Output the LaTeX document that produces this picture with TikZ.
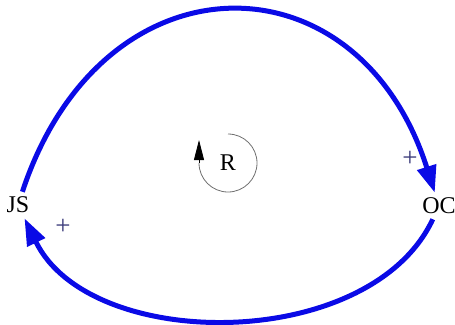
\documentclass[tikz,border=0pt]{standalone}
\usepackage{fontspec}
\setmainfont{Liberation Serif}
\usetikzlibrary{arrows.meta}
\definecolor{linkblue}{HTML}{0A0AE6}
\definecolor{signblue}{HTML}{3A3A7A}
\definecolor{loopgray}{HTML}{707070}

\begin{document}
\begin{tikzpicture}[
  x=1pt, y=-1pt,
  every node/.style={font={\fontsize{24pt}{26pt}\selectfont}},
  varnode/.style={inner sep=5pt},
  link/.style={line width=5pt, color=linkblue,
    -{Triangle[length=27pt,width=19pt]}},
  sign/.style={color=signblue, font={\fontsize{27pt}{29pt}\selectfont}},
]
\useasboundingbox (0,0) rectangle (455,324);

\node[varnode] (JS) at (18,205) {JS};
\node[varnode] (OC) at (439,206) {OC};

% causal links
\draw[link] (JS) .. controls (102,-49) and (358,-49) .. (OC);
\draw[link] (OC) .. controls (370,353) and (90,353) .. (JS);

\node[sign] (plusOC) at (410,159) {+};
\node[sign] (plusJS) at (63,227) {+};

% loop marker
\node (R) at (228,163) {R};
\draw[loopgray, line width=0.8pt] (R) ++(0,-29) arc[start angle=-90, end angle=180, radius=29];
\draw[black, line width=0.8pt, -{Triangle[length=20pt,width=10pt]}]
  (199,163) -- (199,140);

\end{tikzpicture}
\end{document}
